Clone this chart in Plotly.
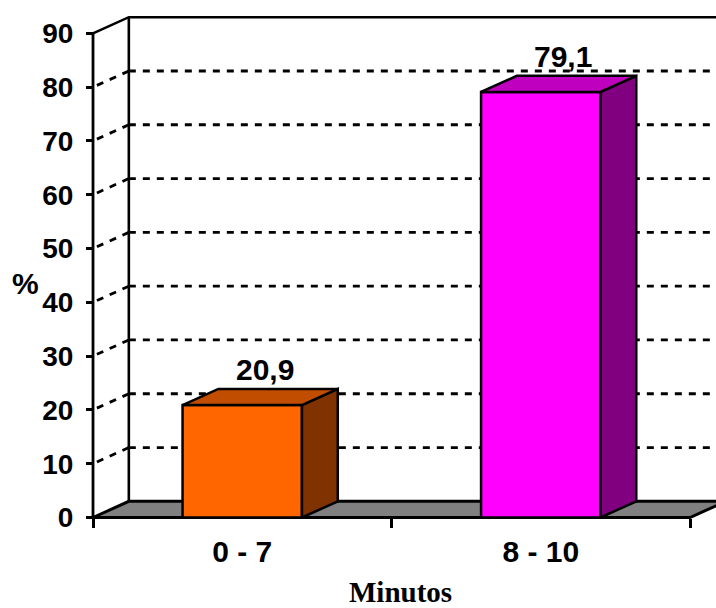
import plotly.graph_objects as go

# Data
categories = ["0 - 7", "8 - 10"]
values = [20.9, 79.1]
value_labels = ["20,9", "79,1"]
y_tick_values = [0, 10, 20, 30, 40, 50, 60, 70, 80, 90]
y_tick_labels = ["0", "10", "20", "30", "40", "50", "60", "70", "80", "90"]

# Colours of each bar's faces
front_colors = ["#FF6600", "#FF00FF"]
top_colors = ["#C04D00", "#BF00BF"]
side_colors = ["#803300", "#800080"]

# 3-D box geometry (in axis units)
Y_MAX = 90
BAR_HALF = 0.2          # half width of a bar, in category units
DEPTH_X = 0.12          # horizontal depth offset, in category units
DEPTH_Y = 3.0           # vertical depth offset, in value units
LEFT = -0.5             # front-left corner of the floor
RIGHT = len(categories) - 0.5

BLACK = "#000000"
FONT_SANS = "Arial, Liberation Sans, sans-serif"
FONT_SERIF = "Times New Roman, Liberation Serif, serif"

fig = go.Figure()


def add_line(xs, ys, width=2.6, dash="solid"):
    fig.add_trace(go.Scatter(
        x=xs, y=ys, mode="lines",
        line=dict(color=BLACK, width=width, dash=dash),
        hoverinfo="skip", showlegend=False,
    ))


def add_face(xs, ys, color, width=2.5):
    fig.add_trace(go.Scatter(
        x=xs + [xs[0]], y=ys + [ys[0]], mode="lines",
        fill="toself", fillcolor=color,
        line=dict(color=BLACK, width=width),
        hoverinfo="skip", showlegend=False,
    ))


back_left = LEFT + DEPTH_X
back_right = RIGHT + DEPTH_X

# Walls: back wall outline and side wall top edge
add_line([LEFT, back_left, back_right], [Y_MAX, Y_MAX + DEPTH_Y, Y_MAX + DEPTH_Y])
add_line([back_left, back_left], [DEPTH_Y, Y_MAX + DEPTH_Y])

# Dashed gridlines on the back wall and on the side wall
grid_dash = "7px,7px"
back_x, back_y, side_x, side_y = [], [], [], []
for v in y_tick_values[1:-1]:
    back_x += [back_left, back_right, None]
    back_y += [v + DEPTH_Y, v + DEPTH_Y, None]
    side_x += [back_left, LEFT, None]
    side_y += [v + DEPTH_Y, v, None]
add_line(back_x, back_y, width=2.8, dash=grid_dash)
add_line(side_x, side_y, width=2.8, dash=grid_dash)

# Floor
add_face([LEFT, RIGHT, back_right, back_left], [0, 0, DEPTH_Y, DEPTH_Y], "#808080", width=3)

# Front value axis line
add_line([LEFT, LEFT], [0, Y_MAX], width=2.8)

# Bars as 3-D boxes
for i, v in enumerate(values):
    x0, x1 = i - BAR_HALF, i + BAR_HALF
    add_face([x0, x1, x1, x0], [0, 0, v, v], front_colors[i])
    add_face([x1, x1 + DEPTH_X, x1 + DEPTH_X, x1], [0, DEPTH_Y, v + DEPTH_Y, v], side_colors[i])
    add_face([x0, x1, x1 + DEPTH_X, x0 + DEPTH_X], [v, v, v + DEPTH_Y, v + DEPTH_Y], top_colors[i])

# Value labels above each bar
for i, v in enumerate(values):
    fig.add_annotation(
        x=i + 0.075, y=v + DEPTH_Y, xref="x", yref="y",
        text=value_labels[i], showarrow=False,
        yanchor="middle", yshift=19,
        font=dict(family=FONT_SANS, size=30, color=BLACK, weight="bold"),
    )

# Axis titles
fig.add_annotation(
    x=-0.1003, y=0.47, xref="paper", yref="paper",
    text="%", showarrow=False, xanchor="center", yanchor="middle",
    font=dict(family=FONT_SANS, size=30, color=BLACK, weight="bold"),
)
fig.add_annotation(
    x=0.4976, y=-0.128, xref="paper", yref="paper",
    text="Minutos", showarrow=False, xanchor="center", yanchor="middle",
    font=dict(family=FONT_SERIF, size=29, color=BLACK, weight="bold"),
)

fig.update_layout(
    width=716, height=608,
    margin=dict(l=88, r=0, t=9, b=82, pad=0),
    paper_bgcolor="white", plot_bgcolor="white",
    showlegend=False,
    xaxis=dict(
        range=[-0.5168, 1.5871],
        anchor="free", position=0.01644,
        tickmode="array",
        tickvals=list(range(len(categories))),
        ticktext=categories,
        ticks="",
        ticklabelstandoff=13,
        tickfont=dict(family=FONT_SANS, size=30, color=BLACK, weight="bold"),
        minor=dict(
            tickmode="array",
            tickvals=[k - 0.5 for k in range(len(categories) + 1)],
            ticks="outside", ticklen=9, tickwidth=2.6, tickcolor=BLACK,
            showgrid=False,
        ),
        showgrid=False, zeroline=False, showline=False,
        fixedrange=True,
    ),
    yaxis=dict(
        range=[-1.58, 94.52],
        anchor="free", position=0.00796,
        tickmode="array",
        tickvals=y_tick_values,
        ticktext=y_tick_labels,
        ticks="outside", ticklen=7, tickwidth=2.6, tickcolor=BLACK,
        ticklabelstandoff=7,
        tickfont=dict(family=FONT_SANS, size=28, color=BLACK, weight="bold"),
        showgrid=False, zeroline=False, showline=False,
        fixedrange=True,
    ),
)

fig.write_html("out.html")
